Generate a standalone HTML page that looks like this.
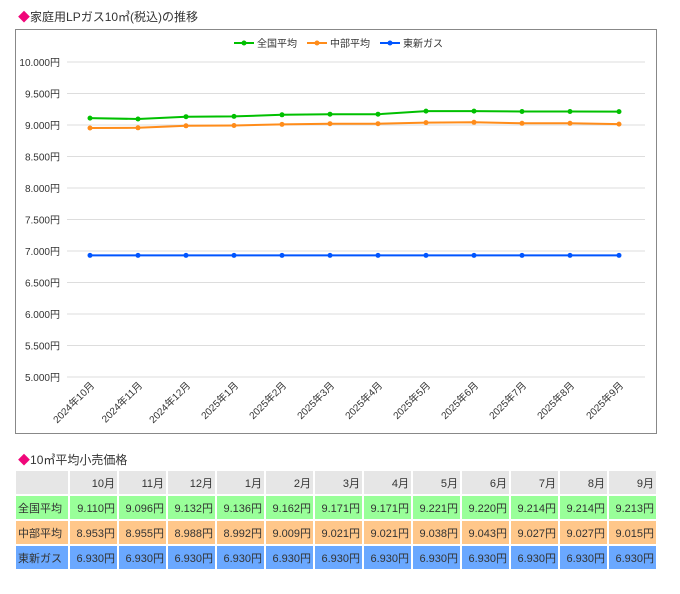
<!DOCTYPE html><html><head><meta charset="utf-8"><style>
body{margin:0;background:#fff;font-family:"Liberation Sans","Noto Sans CJK JP",sans-serif;width:680px;height:594px;position:relative;overflow:hidden}
.t{position:absolute;font-size:12px;color:#333}
.t b{color:#f0067a;font-weight:normal}
table{position:absolute;left:14px;top:469px;border-collapse:collapse;font-size:11px;color:#333;table-layout:fixed;width:644px}
td{border:2px solid #fff;height:23px;padding:0 2px;text-align:right;overflow:hidden;white-space:nowrap}
td:first-child{text-align:left}
tr.h td{background:#e6e6e6}
tr.g td{background:#99ff99}
tr.o td{background:#ffc78a}
tr.b td{background:#6aa8ff}
</style></head><body>
<div class="t" style="left:18px;top:8px"><b>◆</b>家庭用LPガス10㎥(税込)の推移</div>
<svg style="position:absolute;left:0;top:0" width="680" height="440" font-family="Liberation Sans,Noto Sans CJK JP,sans-serif" font-size="10" fill="#333">
<rect x="15.5" y="29.5" width="641" height="404" fill="none" stroke="#888"/>
<g stroke="#ddd">
<line x1="67" x2="645" y1="62" y2="62"/><line x1="67" x2="645" y1="93.5" y2="93.5"/><line x1="67" x2="645" y1="125" y2="125"/><line x1="67" x2="645" y1="156.5" y2="156.5"/><line x1="67" x2="645" y1="188" y2="188"/><line x1="67" x2="645" y1="219.5" y2="219.5"/><line x1="67" x2="645" y1="251" y2="251"/><line x1="67" x2="645" y1="282.5" y2="282.5"/><line x1="67" x2="645" y1="314" y2="314"/><line x1="67" x2="645" y1="345.5" y2="345.5"/><line x1="67" x2="645" y1="377" y2="377"/>
</g>
<g text-anchor="end">
<text x="60" y="66">10.000円</text><text x="60" y="97.5">9.500円</text><text x="60" y="129">9.000円</text><text x="60" y="160.5">8.500円</text><text x="60" y="192">8.000円</text><text x="60" y="223.5">7.500円</text><text x="60" y="255">7.000円</text><text x="60" y="286.5">6.500円</text><text x="60" y="318">6.000円</text><text x="60" y="349.5">5.500円</text><text x="60" y="381">5.000円</text>
</g>
<g text-anchor="end">
<text transform="translate(95,386) rotate(-45)">2024年10月</text>
<text transform="translate(143,386) rotate(-45)">2024年11月</text>
<text transform="translate(191,386) rotate(-45)">2024年12月</text>
<text transform="translate(239,386) rotate(-45)">2025年1月</text>
<text transform="translate(287,386) rotate(-45)">2025年2月</text>
<text transform="translate(335,386) rotate(-45)">2025年3月</text>
<text transform="translate(383,386) rotate(-45)">2025年4月</text>
<text transform="translate(431,386) rotate(-45)">2025年5月</text>
<text transform="translate(479,386) rotate(-45)">2025年6月</text>
<text transform="translate(527,386) rotate(-45)">2025年7月</text>
<text transform="translate(575,386) rotate(-45)">2025年8月</text>
<text transform="translate(624,386) rotate(-45)">2025年9月</text>
</g>
<g stroke-width="2" fill="none">
<polyline stroke="#00c000" points="90,118.1 138,119 186,116.7 234,116.4 282,114.8 330,114.2 378,114.2 426,111.1 474,111.1 522,111.5 570,111.5 619,111.6"/>
<polyline stroke="#ff8c1a" points="90,128 138,127.8 186,125.8 234,125.5 282,124.4 330,123.7 378,123.7 426,122.6 474,122.3 522,123.3 570,123.3 619,124.1"/>
<polyline stroke="#0055ff" points="90,255.4 619,255.4"/>
</g>
<g fill="#00c000"><circle cx="90" cy="118.1" r="2.5"/><circle cx="138" cy="119" r="2.5"/><circle cx="186" cy="116.7" r="2.5"/><circle cx="234" cy="116.4" r="2.5"/><circle cx="282" cy="114.8" r="2.5"/><circle cx="330" cy="114.2" r="2.5"/><circle cx="378" cy="114.2" r="2.5"/><circle cx="426" cy="111.1" r="2.5"/><circle cx="474" cy="111.1" r="2.5"/><circle cx="522" cy="111.5" r="2.5"/><circle cx="570" cy="111.5" r="2.5"/><circle cx="619" cy="111.6" r="2.5"/></g>
<g fill="#ff8c1a"><circle cx="90" cy="128" r="2.5"/><circle cx="138" cy="127.8" r="2.5"/><circle cx="186" cy="125.8" r="2.5"/><circle cx="234" cy="125.5" r="2.5"/><circle cx="282" cy="124.4" r="2.5"/><circle cx="330" cy="123.7" r="2.5"/><circle cx="378" cy="123.7" r="2.5"/><circle cx="426" cy="122.6" r="2.5"/><circle cx="474" cy="122.3" r="2.5"/><circle cx="522" cy="123.3" r="2.5"/><circle cx="570" cy="123.3" r="2.5"/><circle cx="619" cy="124.1" r="2.5"/></g>
<g fill="#0055ff"><circle cx="90" cy="255.4" r="2.5"/><circle cx="138" cy="255.4" r="2.5"/><circle cx="186" cy="255.4" r="2.5"/><circle cx="234" cy="255.4" r="2.5"/><circle cx="282" cy="255.4" r="2.5"/><circle cx="330" cy="255.4" r="2.5"/><circle cx="378" cy="255.4" r="2.5"/><circle cx="426" cy="255.4" r="2.5"/><circle cx="474" cy="255.4" r="2.5"/><circle cx="522" cy="255.4" r="2.5"/><circle cx="570" cy="255.4" r="2.5"/><circle cx="619" cy="255.4" r="2.5"/></g>
<g stroke-width="2"><line x1="234" x2="254" y1="43" y2="43" stroke="#00c000"/><circle cx="244" cy="43" r="2.5" fill="#00c000"/>
<line x1="307" x2="327" y1="43" y2="43" stroke="#ff8c1a"/><circle cx="317" cy="43" r="2.5" fill="#ff8c1a"/>
<line x1="380" x2="400" y1="43" y2="43" stroke="#0055ff"/><circle cx="390" cy="43" r="2.5" fill="#0055ff"/></g>
<text x="257" y="47">全国平均</text><text x="330" y="47">中部平均</text><text x="403" y="47">東新ガス</text>
</svg>
<div class="t" style="left:18px;top:451px"><b>◆</b>10㎥平均小売価格</div>
<table>
<colgroup><col style="width:54px"><col><col><col><col><col><col><col><col><col><col><col><col></colgroup>
<tr class="h"><td></td><td>10月</td><td>11月</td><td>12月</td><td>1月</td><td>2月</td><td>3月</td><td>4月</td><td>5月</td><td>6月</td><td>7月</td><td>8月</td><td>9月</td></tr>
<tr class="g"><td>全国平均</td><td>9.110円</td><td>9.096円</td><td>9.132円</td><td>9.136円</td><td>9.162円</td><td>9.171円</td><td>9.171円</td><td>9.221円</td><td>9.220円</td><td>9.214円</td><td>9.214円</td><td>9.213円</td></tr>
<tr class="o"><td>中部平均</td><td>8.953円</td><td>8.955円</td><td>8.988円</td><td>8.992円</td><td>9.009円</td><td>9.021円</td><td>9.021円</td><td>9.038円</td><td>9.043円</td><td>9.027円</td><td>9.027円</td><td>9.015円</td></tr>
<tr class="b"><td>東新ガス</td><td>6.930円</td><td>6.930円</td><td>6.930円</td><td>6.930円</td><td>6.930円</td><td>6.930円</td><td>6.930円</td><td>6.930円</td><td>6.930円</td><td>6.930円</td><td>6.930円</td><td>6.930円</td></tr>
</table>
</body></html>
